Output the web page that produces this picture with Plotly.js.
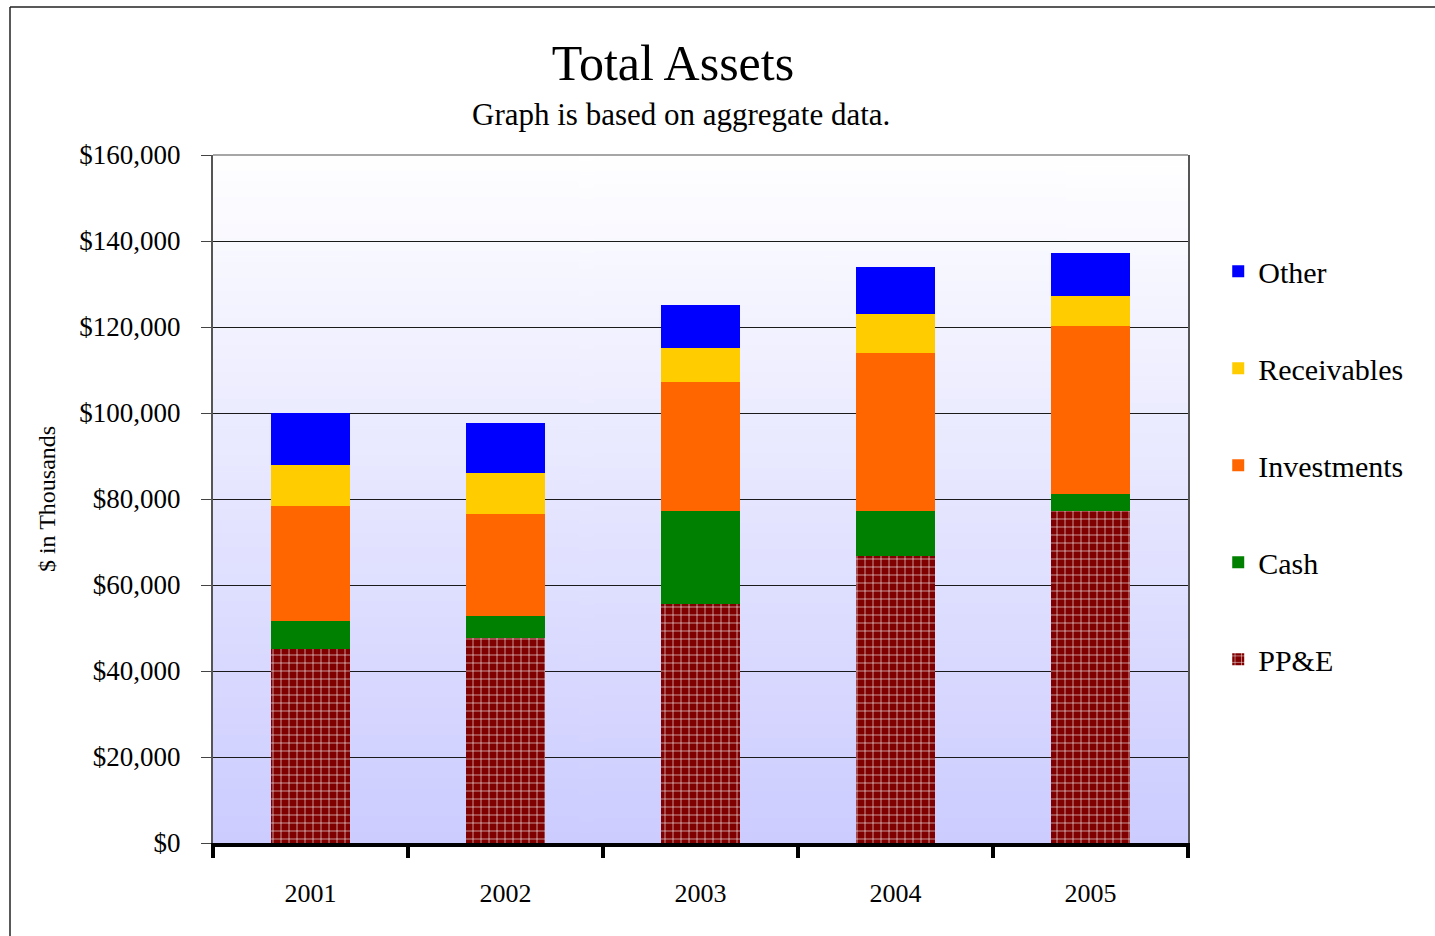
<!DOCTYPE html>
<html>
<head>
<meta charset="utf-8">
<script src="https://cdn.plot.ly/plotly-3.0.1.min.js"></script>
<style>
  html, body { margin: 0; padding: 0; background: #fff; }
  #chart { width: 1435px; height: 936px; }
</style>
</head>
<body>
<div id="chart"></div>
<script>
// Total Assets, $ in thousands, stacked by component
const years = ['2001', '2002', '2003', '2004', '2005'];
const ppe         = [45100, 47700, 55600, 66700, 77200];
const cash        = [6600, 5200, 21600, 10500, 4000];
const investments = [26700, 23500, 30000, 36800, 39000];
const receivables = [9500, 9700, 7900, 9000, 7000];
const other       = [12100, 11600, 10000, 11000, 10000];

const yTicks = [0, 20000, 40000, 60000, 80000, 100000, 120000, 140000, 160000];

const FONT = '"Liberation Serif", "DejaVu Serif", serif';

// vertical gradient for the plot background (white -> lavender)
function gradientURL() {
  const c = document.createElement('canvas');
  c.width = 4; c.height = 512;
  const ctx = c.getContext('2d');
  const g = ctx.createLinearGradient(0, 0, 0, 512);
  g.addColorStop(0, '#ffffff');
  g.addColorStop(1, '#ccccff');
  ctx.fillStyle = g;
  ctx.fillRect(0, 0, 4, 512);
  return c.toDataURL('image/png');
}

function barTrace(name, values, color, rank, extra) {
  return Object.assign({
    type: 'bar',
    name: name,
    x: years,
    y: values,
    legendgroup: name,
    legendrank: rank,
    marker: { color: color, line: { width: 0 } },
    hovertemplate: name + ' %{x}: $%{y:,}<extra></extra>'
  }, extra || {});
}

const traces = [
  // PP&E drawn with a brick-like mortar pattern
  barTrace('PP&E', ppe, '#800000', 5, {
    marker: {
      color: '#800000',
      line: { width: 0 },
      pattern: { shape: '+', fillmode: 'replace', bgcolor: '#800000', fgcolor: '#ffffff', size: 8, solidity: 0.14 }
    }
  }),
  barTrace('Cash', cash, '#008000', 4),
  barTrace('Investments', investments, '#ff6600', 3),
  barTrace('Receivables', receivables, '#ffcc00', 2),
  barTrace('Other', other, '#0000ff', 1)
];

// pixel -> paper helpers (plot area is 213..1188 x 155..843)
const px = v => (v - 213) / 975;
const py = v => (843 - v) / 688;

const layout = {
  width: 1435,
  height: 936,
  barmode: 'stack',
  bargap: 0.59,
  paper_bgcolor: '#ffffff',
  plot_bgcolor: 'rgba(0,0,0,0)',
  font: { family: FONT, color: '#000' },
  margin: { l: 213, r: 247, t: 155, b: 93, pad: 0 },
  title: {
    text: 'Total Assets',
    font: { family: FONT, size: 50, color: '#000' },
    x: 0.469, xanchor: 'center', xref: 'container',
    y: 1 - 62 / 936, yanchor: 'middle', yref: 'container'
  },
  annotations: [{
    text: 'Graph is based on aggregate data.',
    xref: 'paper', yref: 'paper',
    x: px(681), y: py(114),
    xanchor: 'center', yanchor: 'middle',
    showarrow: false,
    font: { family: FONT, size: 31, color: '#000' }
  }],
  xaxis: {
    type: 'category',
    tickson: 'boundaries',
    ticks: 'outside',
    ticklen: 11,
    tickwidth: 4,
    tickcolor: '#000',
    showline: true,
    linecolor: '#000',
    linewidth: 4,
    showgrid: false,
    tickfont: { family: FONT, size: 26, color: '#000' },
    ticklabelstandoff: 24
  },
  yaxis: {
    range: [0, 160000],
    tickvals: yTicks,
    tickformat: '$,.0f',
    ticks: 'outside',
    ticklen: 10,
    tickwidth: 1,
    tickcolor: '#444',
    showline: true,
    linecolor: '#555',
    linewidth: 2,
    mirror: true,
    showgrid: true,
    gridcolor: '#1a1a1a',
    gridwidth: 1,
    zeroline: false,
    tickfont: { family: FONT, size: 27, color: '#000' },
    ticklabelstandoff: 15,
    title: { text: '$ in Thousands', font: { family: FONT, size: 24, color: '#000' }, standoff: 17 }
  },
  legend: {
    x: 1.031, xanchor: 'left',
    y: 0.869, yanchor: 'top',
    traceorder: 'grouped',
    tracegroupgap: 55,
    font: { family: FONT, size: 30, color: '#000' },
    bgcolor: 'rgba(0,0,0,0)',
    itemclick: false
  },
  images: [{
    source: gradientURL(),
    xref: 'paper', yref: 'paper',
    x: 0, y: 1, sizex: 1, sizey: 1,
    xanchor: 'left', yanchor: 'top',
    sizing: 'stretch',
    layer: 'below'
  }],
  shapes: [
    // top border of plot area
    { type: 'line', xref: 'paper', yref: 'paper', x0: 0, x1: 1, y0: 1, y1: 1, line: { color: '#888', width: 1.5 } },
    // outer chart frame (top and left edges)
    { type: 'line', xref: 'paper', yref: 'paper', x0: px(10), x1: px(1440), y0: py(7), y1: py(7), line: { color: '#222', width: 1.5 } },
    { type: 'line', xref: 'paper', yref: 'paper', x0: px(10), x1: px(10), y0: py(7), y1: py(940), line: { color: '#222', width: 1.5 } }
  ]
};

Plotly.newPlot('chart', traces, layout, { displayModeBar: false, responsive: false });
</script>
</body>
</html>
